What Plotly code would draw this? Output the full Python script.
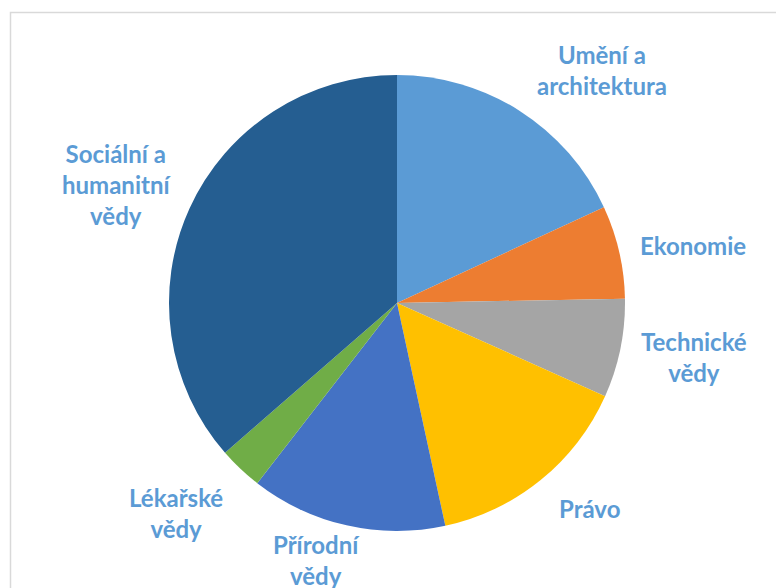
import plotly.graph_objects as go

categories = ["Umění a architektura", "Ekonomie", "Technické vědy", "Právo",
              "Přírodní vědy", "Lékařské vědy", "Sociální a humanitní vědy"]
label_text = ["Umění a<br>architektura", "Ekonomie", "Technické<br>vědy", "Právo",
              "Přírodní<br>vědy", "Lékařské<br>vědy", "Sociální a<br>humanitní<br>vědy"]
values = [18.1, 6.6, 7.0, 14.9, 13.9, 3.1, 36.4]
colors = ["#5B9BD5", "#ED7D31", "#A5A5A5", "#FFC000", "#4472C4", "#70AD47", "#255E91"]

# label centres in pixels (x, y from top)
label_pos = [(602, 70), (693, 245), (694, 357), (589, 508), (316, 560), (176, 513), (116, 185)]

W, H = 776, 588
cx, cy, r = 397, 303, 228

fig = go.Figure(go.Pie(
    labels=categories, values=values, sort=False, direction="clockwise", rotation=0,
    marker=dict(colors=colors, line=dict(width=0)),
    textinfo="none", hoverinfo="label+percent", showlegend=False,
    domain=dict(x=[(cx - r) / W, (cx + r) / W], y=[1 - (cy + r) / H, 1 - (cy - r) / H]),
))

for txt, (px, py) in zip(label_text, label_pos):
    fig.add_annotation(x=px / W, y=1 - py / H, xref="paper", yref="paper",
                       text="<b>" + txt + "</b>", showarrow=False,
                       font=dict(family="Lato", size=24, color="#5B9BD5"),
                       align="center", xanchor="center", yanchor="middle")

fig.add_shape(type="rect", xref="paper", yref="paper",
              x0=10.5 / W, x1=1.05, y0=-0.05, y1=1 - 12.5 / H,
              line=dict(color="#D9D9D9", width=1.5), fillcolor="rgba(0,0,0,0)", layer="below")

fig.update_layout(width=W, height=H, margin=dict(l=0, r=0, t=0, b=0),
                  paper_bgcolor="white", plot_bgcolor="white")
fig.write_html("out.html", config={"displayModeBar": False},
               post_script="document.body.style.margin='0';document.body.style.overflow='hidden';")
